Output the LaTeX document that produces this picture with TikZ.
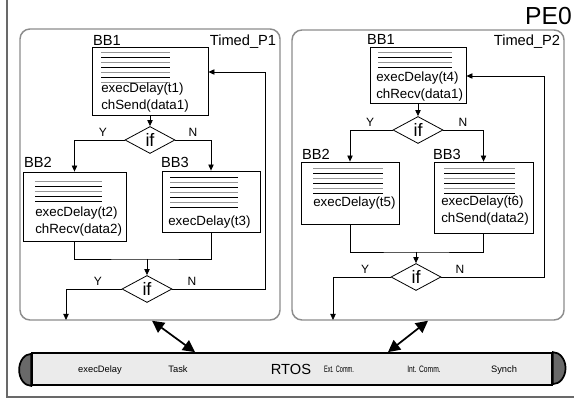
\documentclass[tikz,border=0pt]{standalone}
\usepackage{fontspec}
\setmainfont{Liberation Sans}
\usetikzlibrary{shapes.geometric,arrows.meta,calc}

\definecolor{procgray}{RGB}{140,140,140}
\definecolor{framegray}{RGB}{105,105,105}
\definecolor{barfill}{RGB}{235,235,235}
\definecolor{capfill}{RGB}{105,105,105}
\definecolor{linegray}{RGB}{150,150,150}

\begin{document}
\begin{tikzpicture}[x=0.75pt, y=-0.75pt,
	>={Triangle[length=4.5pt,width=4pt]},
	proc/.style={draw=procgray, line width=1.1pt, rounded corners=7.5pt, inner sep=0},
	bbox/.style={draw, line width=0.6pt, inner sep=0},
	code/.style={align=left, inner sep=0, anchor=west, font=\fontsize{10}{12.75}\selectfont},
	bblabel/.style={inner sep=0, anchor=base, font=\fontsize{11}{13}\selectfont},
	cond/.style={draw, diamond, aspect=2, line width=0.6pt, inner sep=0, minimum width=0.75*50, minimum height=0.75*27, font=\fontsize{13.5}{14}\selectfont},
	yn/.style={inner sep=0, anchor=base, font=\fontsize{9}{10}\selectfont},
	flow/.style={->, line width=0.6pt},
	link/.style={{Triangle[length=9pt,width=9pt]}-{Triangle[length=9pt,width=9pt]}, line width=1.3pt},
	bartext/.style={inner sep=0, anchor=base, font=\fontsize{7}{8}\selectfont},
	barcap/.style={draw, line width=1.3pt, fill=capfill}]

	\useasboundingbox (0,0) rectangle (574,402);
	\draw[framegray, line width=1.5pt] (7,-5) -- (7,397) -- (580,397);
	\node[inner sep=0, anchor=base east, font=\fontsize{18.5}{20}\selectfont] (pe0) at (572,25) {PE0};

	% Timed_P1
	\node[proc, minimum width=0.75*260, minimum height=0.75*291] (proc1) at (150,174.5) {};
	\node[bblabel] (timed1) at (243,46) {Timed\_P1};

	\node[bbox, minimum width=0.75*116, minimum height=0.75*68] (bb1a) at (150,81) {};
	\node[bblabel] (lbl1a) at (107,46) {BB1};
	\foreach \yy/\cc in {52/linegray,57/black,62/linegray,67/black,72/linegray,77/black,82/linegray}
		\draw[\cc, line width=0.7pt] (101,\yy) -- (170,\yy);
	\node[code] (code1a) at (101,97.5) {execDelay(t1)\\chSend(data1)};

	\node[cond] (if1a) at (150,140) {if};
	\node[yn] (y1a) at (103,137) {Y};
	\node[yn] (n1a) at (193,137) {N};

	\node[bbox, minimum width=0.75*103, minimum height=0.75*69] (bb2a) at (74.5,206.5) {};
	\node[bblabel] (lbl2a) at (38,168) {BB2};
	\foreach \yy/\cc in {181/linegray,186/black,191/linegray,196/black,201/black}
		\draw[\cc, line width=0.7pt] (35,\yy) -- (102,\yy);
	\node[code] (code2a) at (35,222) {execDelay(t2)\\chRecv(data2)};

	\node[bbox, minimum width=0.75*98, minimum height=0.75*61] (bb3a) at (211,201.5) {};
	\node[bblabel] (lbl3a) at (175,168) {BB3};
	\foreach \yy/\cc in {177/black,182/linegray,187/black,192/linegray,197/black,202/linegray,207/black}
		\draw[\cc, line width=0.7pt] (170,\yy) -- (238,\yy);
	\node[code] (code3a) at (168,222) {execDelay(t3)};

	\node[cond] (if2a) at (147,289) {if};
	\node[yn] (y2a) at (98,286) {Y};
	\node[yn] (n2a) at (192,286) {N};

	\coordinate (join1) at (147,259);
	\coordinate (exit1) at (66,320);
	\coordinate (back1) at (265,72);

	\draw[flow] (bb1a) -- (if1a);
	\draw[flow] (if1a.west) -| (bb2a.north);
	\draw[flow] (if1a.east) -| (bb3a.north);
	\draw[line width=0.6pt] (bb2a.south) |- (join1) -| (bb3a.south);
	\draw[flow] (join1) -- (if2a);
	\draw[flow] (if2a.west) -| (exit1);
	\draw[flow] (if2a.east) -| (back1) -- (back1 -| bb1a.east);

	% Timed_P2
	\node[proc, minimum width=0.75*272, minimum height=0.75*290] (proc2) at (428,175) {};
	\node[bblabel] (timed2) at (527,46) {Timed\_P2};

	\node[bbox, minimum width=0.75*96, minimum height=0.75*56] (bb1b) at (418,75) {};
	\node[bblabel] (lbl1b) at (381,45) {BB1};
	\foreach \yy/\cc in {52/linegray,57/black,62/linegray,67/black}
		\draw[\cc, line width=0.7pt] (378,\yy) -- (452,\yy);
	\node[code] (code1b) at (376,86.5) {execDelay(t4)\\chRecv(data1)};

	\node[cond] (if1b) at (418,130) {if};
	\node[yn] (y1b) at (370,127) {Y};
	\node[yn] (n1b) at (463,127) {N};

	\node[bbox, minimum width=0.75*98, minimum height=0.75*62] (bb2b) at (350,193) {};
	\node[bblabel] (lbl2b) at (316,160) {BB2};
	\foreach \yy/\cc in {168/linegray,173/black,178/linegray,183/black,188/linegray,193/black}
		\draw[\cc, line width=0.7pt] (313,\yy) -- (383,\yy);
	\node[code] (code2b) at (313,203) {execDelay(t5)};

	\node[bbox, minimum width=0.75*99, minimum height=0.75*71] (bb3b) at (483.5,197.5) {};
	\node[bblabel] (lbl3b) at (447,160) {BB3};
	\foreach \yy/\cc in {168/linegray,173/black,178/linegray,183/black,188/linegray,193/black}
		\draw[\cc, line width=0.7pt] (444,\yy) -- (515,\yy);
	\node[code] (code3b) at (441,211) {execDelay(t6)\\chSend(data2)};

	\node[cond] (if2b) at (416,277) {if};
	\node[yn] (y2b) at (365,274) {Y};
	\node[yn] (n2b) at (460,274) {N};

	\coordinate (join2) at (416,252);
	\coordinate (exit2) at (333,320);
	\coordinate (back2) at (544,76);

	\draw[flow] (bb1b) -- (if1b);
	\draw[flow] (if1b.west) -| (bb2b.north);
	\draw[flow] (if1b.east) -| (bb3b.north);
	\draw[line width=0.6pt] (bb2b.south) |- (join2) -| (bb3b.south);
	\draw[flow] (join2) -- (if2b);
	\draw[flow] (if2b.west) -| (exit2);
	\draw[flow] (if2b.east) -| (back2) -- (back2 -| bb1b.east);

	% RTOS
	\node[draw, fill=barfill, line width=1.3pt, inner sep=0, minimum width=0.75*520, minimum height=0.75*32] (rtos) at (292,369) {};
	\draw[barcap] (rtos.south west) arc (270:90:9pt and 12pt) -- cycle;
	\draw[barcap] (rtos.north east) arc (90:-90:9.5pt and 12pt) -- cycle;
	\node[bartext] (delaylbl) at (100,372.5) {execDelay};
	\node[bartext] (tasklbl) at (178,372.5) {Task};
	\node[bartext, font=\fontsize{11}{12}\selectfont] (rtoslbl) at (291,374.5) {RTOS};
	\node[bartext] (extlbl) at (339,372.5) {\scalebox{0.6}[1]{Ext. Comm.}};
	\node[bartext] (intlbl) at (424,372.5) {\scalebox{0.72}[1]{Int. Comm.}};
	\node[bartext] (synchlbl) at (504,372.5) {Synch};

	\draw[link] ($(proc1.south)+(2,0)$) -- ($(rtos.north)+(-97,0)$);
	\draw[link] (proc2.south) -- ($(rtos.north)+(96,0)$);
\end{tikzpicture}
\end{document}
